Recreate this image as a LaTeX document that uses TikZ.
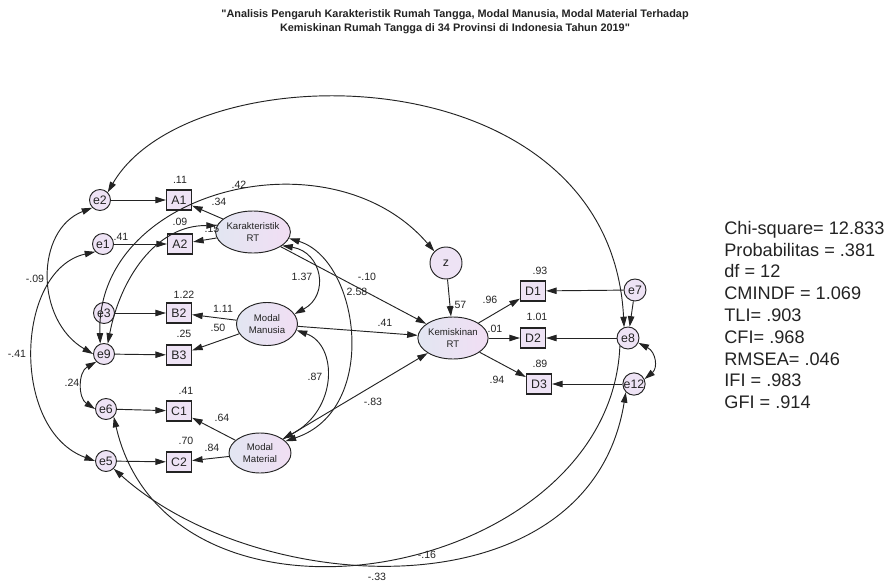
\documentclass[tikz,border=0pt]{standalone}
\usepackage{fontspec}
\setmainfont{Liberation Sans}[Ligatures=TeXOff]
\usetikzlibrary{arrows.meta, shapes.geometric}

\definecolor{varfill}{RGB}{238,227,245}
\definecolor{latleft}{RGB}{226,230,242}
\definecolor{latright}{RGB}{241,222,243}
\definecolor{inkgray}{RGB}{35,35,35}

\begin{document}
\begin{tikzpicture}[
    x=0.03cm, y=-0.03cm,
    >={Triangle[length=9pt,width=5.5pt]},
    line width=0.8pt,
    every node/.style={text=inkgray},
    errvar/.style={circle, draw=inkgray, fill=varfill, minimum size=0.63cm,
                   inner sep=0pt, font=\fontsize{10.5}{11}\selectfont},
    obsvar/.style={rectangle, draw=inkgray, line width=1pt, fill=varfill,
                   minimum width=0.75cm, minimum height=0.6cm, inner sep=0pt,
                   font=\fontsize{10.5}{11}\selectfont},
    latvar/.style={ellipse, draw=inkgray, left color=latleft, right color=latright,
                   minimum width=1.78cm, minimum height=1.26cm, inner sep=0pt,
                   align=center, font=\fontsize{8.2}{9.5}\selectfont},
    coef/.style={font=\fontsize{9}{10}\selectfont, inner sep=0.5pt},
    regpath/.style={->, inkgray},
    covpath/.style={<->, inkgray}
]
\useasboundingbox (0,0) rectangle (893,585);

%-------------------------------
% 1) Title
%-------------------------------
\node[font=\bfseries\fontsize{9.3}{12}\selectfont, align=center] (title) at (455,22)
    {"Analisis Pengaruh Karakteristik Rumah Tangga, Modal Manusia, Modal Material Terhadap\\
     Kemiskinan Rumah Tangga di 34 Provinsi di Indonesia Tahun 2019"};

%-------------------------------
% 2) Error terms (left column)
%-------------------------------
\node[errvar] (e2) at (100,200) {e2};
\node[errvar] (e1) at (103,244) {e1};
\node[errvar] (e3) at (104,313) {e3};
\node[errvar] (e9) at (104,354) {e9};
\node[errvar] (e6) at (106,409) {e6};
\node[errvar] (e5) at (106,461) {e5};

%-------------------------------
% 3) Indicators
%-------------------------------
\node[obsvar] (A1) at (179,200) {A1};
\node[obsvar] (A2) at (180,244) {A2};
\node[obsvar] (B2) at (179,313) {B2};
\node[obsvar] (B3) at (179,355) {B3};
\node[obsvar] (C1) at (179,411) {C1};
\node[obsvar] (C2) at (179,462) {C2};

\node[obsvar] (D1) at (533,291) {D1};
\node[obsvar] (D2) at (533,338) {D2};
\node[obsvar] (D3) at (539,384) {D3};

%-------------------------------
% 4) Latent variables
%-------------------------------
\node[latvar] (krt) at (253,232) {Karakteristik\\RT};
\node[latvar, minimum width=1.83cm, minimum height=1.29cm] (mm) at (267,324) {Modal\\Manusia};
\node[latvar, minimum width=1.86cm, minimum height=1.2cm] (mmat) at (260,453) {Modal\\Material};
\node[latvar] (kem) at (453,338) {Kemiskinan\\RT};
\node[errvar, minimum size=0.96cm] (z) at (446,263) {z};

% error terms (right column)
\node[errvar, minimum size=0.66cm] (e7) at (635,290) {e7};
\node[errvar, minimum size=0.66cm] (e8) at (628,338) {e8};
\node[errvar, minimum size=0.66cm] (e12) at (634,384) {e12};

%-------------------------------
% 5) Regression paths
%-------------------------------
\draw[regpath] (e2) -- (A1);
\draw[regpath] (e1) -- (A2);
\draw[regpath] (e3) -- (B2);
\draw[regpath] (e9) -- (B3);
\draw[regpath] (e6) -- (C1);
\draw[regpath] (e5) -- (C2);

\draw[regpath] (krt) -- (A1);
\draw[regpath] (krt) -- (A2);
\draw[regpath] (mm) -- (B2);
\draw[regpath] (mm) -- (B3);
\draw[regpath] (mmat) -- (C1);
\draw[regpath] (mmat) -- (C2);

\draw[regpath] (krt) -- (kem);
\draw[regpath] (mm) -- (kem);
\draw[regpath] (mmat) -- (kem);
\draw[regpath] (z) -- (kem);

\draw[regpath] (kem) -- (D1);
\draw[regpath] (kem) -- (D2);
\draw[regpath] (kem) -- (D3);
\draw[regpath] (e7) -- (D1);
\draw[regpath] (e8) -- (D2);
\draw[regpath] (e12) -- (D3);
\draw[regpath] (e7) -- (e8);

%-------------------------------
% 6) Covariances
%-------------------------------
\draw[covpath] (e2.north east) .. controls (190,50) and (610,50) .. (e8.110);
\draw[covpath] (e2.south west) .. controls (35,230) and (35,320) .. (e9.west);
\draw[covpath] (e1.south west) .. controls (15,270) and (10,430) .. (e5.west);
\draw[covpath] (e9.south west) .. controls (78,372) and (78,398) .. (e6.west);
\draw[covpath] (e9.110) .. controls (95,190) and (330,130) .. (z.north west);
\draw[covpath] (e9.70) .. controls (120,280) and (155,225) .. (krt.170);

\draw[covpath] (krt.-25) .. controls (322,252) and (330,295) .. (mm.20);
\draw[covpath] (krt.-10) .. controls (360,260) and (380,410) .. (mmat.25);
\draw[covpath] (mm.-12) .. controls (338,345) and (338,410) .. (mmat.32);

\draw[covpath] (e8.-25) .. controls (656,352) and (658,368) .. (e12.25);
\draw[<-, inkgray] (e6.south east) .. controls (170,660) and (610,580) .. (e8.south west);
\draw[covpath] (e5.south east) .. controls (260,600) and (590,615) .. (e12.south west);

%-------------------------------
% 7) Estimates
%-------------------------------
\node[coef] (rA1) at (180,180) {.11};
\node[coef] (rA2) at (180,222) {.09};
\node[coef] (re1) at (121,237) {.41};
\node[coef] (rB2) at (184,295) {1.22};
\node[coef] (rB3) at (184,334) {.25};
\node[coef] (rC1) at (186,391) {.41};
\node[coef] (rC2) at (186,441) {.70};
\node[coef] (rD1) at (540,271) {.93};
\node[coef] (rD2) at (537,317) {1.01};
\node[coef] (rD3) at (540,364) {.89};

\node[coef] (wA1) at (219,202) {.34};
\node[coef] (wA2) at (212,229) {.15};
\node[coef] (wB2) at (223,309) {1.11};
\node[coef] (wB3) at (218,328) {.50};
\node[coef] (wC1) at (222,418) {.64};
\node[coef] (wC2) at (212,448) {.84};
\node[coef] (wkrt) at (367,277) {-.10};
\node[coef] (wmm) at (385,323) {.41};
\node[coef] (wmmat) at (373,402) {-.83};
\node[coef] (wz) at (459,305) {.57};
\node[coef] (wD1) at (490,300) {.96};
\node[coef] (wD2) at (495,329) {.01};
\node[coef] (wD3) at (497,380) {.94};

\node[coef] (cz) at (239,185) {.42};
\node[coef] (c29) at (35,279) {-.09};
\node[coef] (c15) at (17,354) {-.41};
\node[coef] (c96) at (72,383) {.24};
\node[coef] (ckm) at (302,277) {1.37};
\node[coef] (cka) at (357,292) {2.58};
\node[coef] (cma) at (315,377) {.87};
\node[coef] (c512) at (427,555) {-.16};
\node[coef] (c68) at (377,577) {-.33};

%-------------------------------
% 8) Fit indices
%-------------------------------
\node[anchor=west, align=left, font=\fontsize{15.5}{18.6}\selectfont] (fitidx) at (720,315)
    {Chi-square= 12.833\\
     Probabilitas = .381\\
     df = 12\\
     CMINDF = 1.069\\
     TLI= .903\\
     CFI= .968\\
     RMSEA= .046\\
     IFI = .983\\
     GFI = .914};

\end{tikzpicture}
\end{document}
